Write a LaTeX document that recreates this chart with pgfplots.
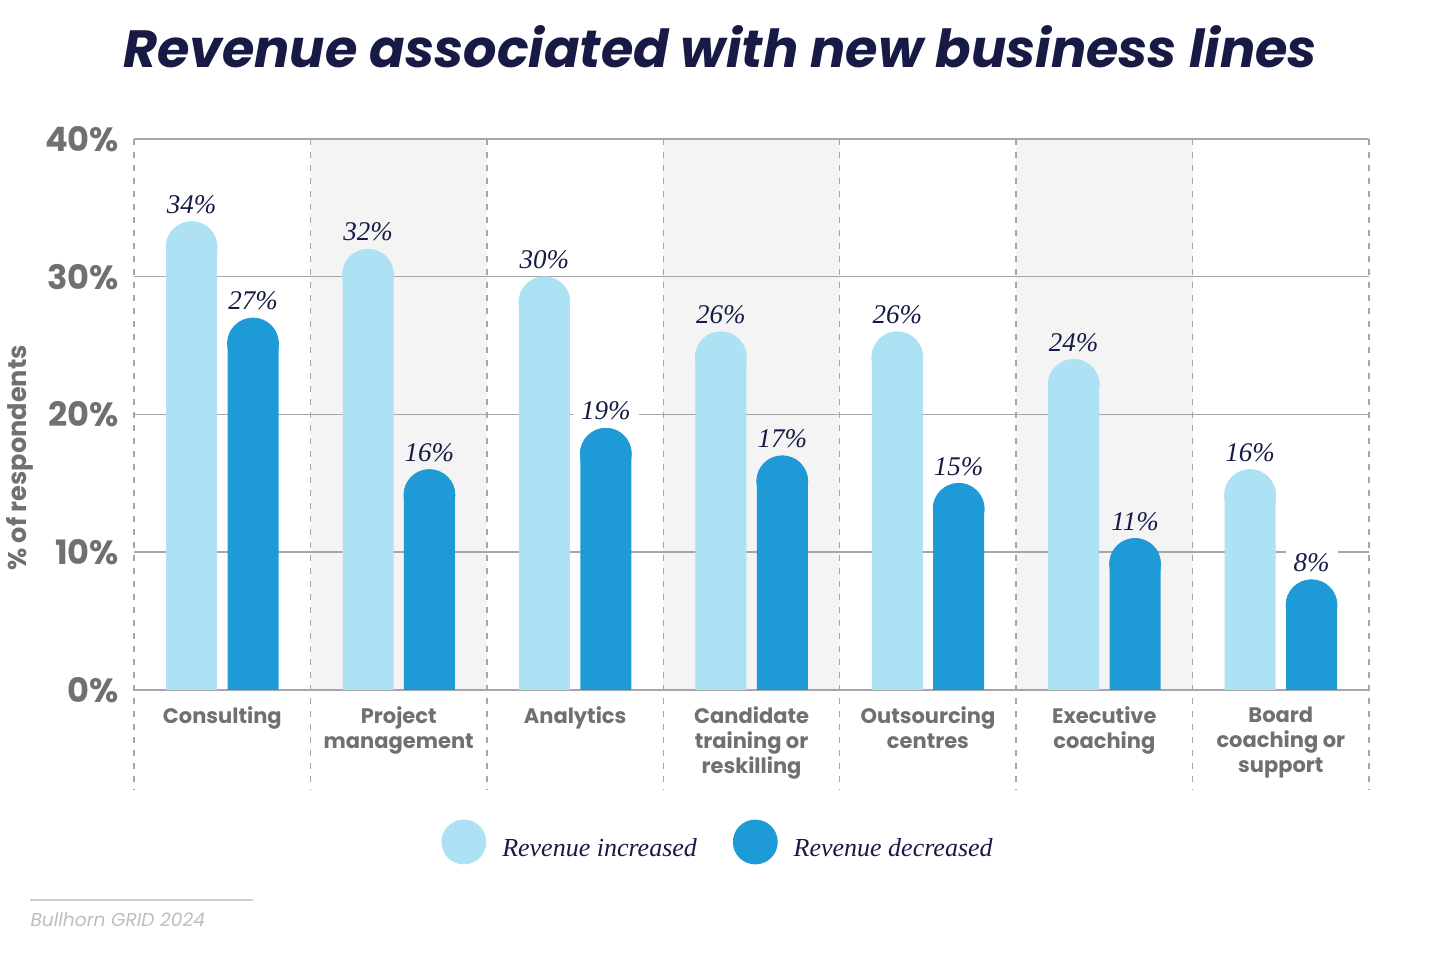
\documentclass[border=0pt]{standalone}
\usepackage{fontspec}
\usepackage{pgfplots}
\pgfplotsset{compat=1.18}
\usepackage{pgfplotstable}
\setmainfont{Poppins}
\newfontfamily\serifit{Liberation Serif}
\newfontfamily\headfont{Poppins}

\definecolor{incblue}{HTML}{ADE1F4}
\definecolor{decblue}{HTML}{1E9AD6}
\definecolor{navy}{HTML}{161A45}
\definecolor{txtgray}{HTML}{707070}
\definecolor{gridgray}{HTML}{A6A6A6}
\definecolor{bandgray}{HTML}{F4F4F4}
\definecolor{srcgray}{HTML}{BDBDBD}

\pgfplotstableread{
x inc dec
0 34 27
1 32 16
2 30 19
3 26 17
4 26 15
5 24 11
6 16 8
}\revdata

% value labels; boxes are white in the white bands (they break the grid lines)
\pgfplotsset{
  vlabels/.style={
    nodes near coords={\pgfplotspointmeta\%},
    point meta=explicit symbolic,
    every node near coord/.append style={font=\serifit\itshape\fontsize{13.5}{16}\selectfont,
      text=navy, anchor=south, inner xsep=4pt, inner ysep=2pt, yshift=14.5pt},
    coordinate style/.condition={mod(\coordindex,2)==0}{fill=white},
  },
  capbar/.style={ybar, bar width=25.5pt, bar shift=0pt, fill=#1, draw=none, mark=none, forget plot},
  cap/.style={only marks, mark=*, mark size=12.75pt, color=#1, mark options={draw=none, fill=#1},
    legend image code/.code={\fill[#1] (0pt,3.5pt) circle (11pt); \path (17pt,0pt);}},
}

\begin{document}
\begin{tikzpicture}
\begin{axis}[
  set layers,
  scale only axis,
  width=617.5pt, height=275.5pt,
  xmin=-0.5, xmax=6.5, ymin=0, ymax=40,
  clip=false,
  axis line style={draw=none},
  major tick length=0pt,
  ytick={0,10,20,30,40},
  yticklabels={0\%,10\%,20\%,30\%,40\%},
  yticklabel style={font=\bfseries\fontsize{16.8}{18}\selectfont, text=txtgray, xshift=-4pt},
  xtick={0,1,2,3,4,5,6},
  xticklabels={Consulting, {Project\\management}, Analytics, {Candidate\\training or\\reskilling},
    {Outsourcing\\centres}, {Executive\\coaching}, {Board\\coaching or\\support}},
  xticklabel style={font=\bfseries\fontsize{10.5}{12.5}\selectfont, text=txtgray, align=center, anchor=north, yshift=-5pt},
  ymajorgrids,
  grid style={gridgray, line width=0.75pt},
  legend columns=2,
  legend style={at={(0.4737,-0.276)}, anchor=center, draw=none, fill=none,
    font=\serifit\itshape\fontsize{13}{16}\selectfont, text=navy,
    /tikz/every even column/.append style={column sep=16pt}},
]
\begin{pgfonlayer}{axis background}
  \fill[bandgray] (axis cs:0.5,0) rectangle (axis cs:1.5,40);
  \fill[bandgray] (axis cs:2.5,0) rectangle (axis cs:3.5,40);
  \fill[bandgray] (axis cs:4.5,0) rectangle (axis cs:5.5,40);
  \pgfplotsinvokeforeach{-0.5,0.5,1.5,2.5,3.5,4.5,5.5,6.5}{
    \draw[gridgray, line width=0.7pt, dash pattern=on 3pt off 3.5pt]
      (axis cs:#1,40) -- ([yshift=-50pt]axis cs:#1,0);
  }
\end{pgfonlayer}

% revenue increased: straight bar up to value minus cap radius, round cap on top
\addplot[capbar=incblue]
  table[x expr=\thisrow{x}-0.174, y expr=\thisrow{inc}-1.851] {\revdata};
\addplot[cap=incblue, vlabels]
  table[x expr=\thisrow{x}-0.174, y expr=\thisrow{inc}-1.851, meta=inc] {\revdata};
\addlegendentry{Revenue increased}

% revenue decreased
\addplot[capbar=decblue]
  table[x expr=\thisrow{x}+0.174, y expr=\thisrow{dec}-1.851] {\revdata};
\addplot[cap=decblue, vlabels]
  table[x expr=\thisrow{x}+0.174, y expr=\thisrow{dec}-1.851, meta=dec] {\revdata};
\addlegendentry{Revenue decreased}
\end{axis}

\node[font=\headfont\bfseries\itshape\fontsize{26.2}{32}\selectfont, text=navy]
  at (293pt,321.5pt) {Revenue associated with new business lines};
\node[rotate=90, font=\bfseries\fontsize{12.8}{14}\selectfont, text=txtgray]
  at (-57pt,116pt) {\% of respondents};
\draw[srcgray!70, line width=0.75pt] (-52pt,-105pt) -- (59.5pt,-105pt);
\node[anchor=base west, inner sep=0pt, font=\itshape\fontsize{9.3}{11}\selectfont, text=srcgray]
  at (-52pt,-118.5pt) {Bullhorn GRID 2024};
\useasboundingbox (-67pt,-133pt) rectangle (653pt,345pt);
\end{tikzpicture}
\end{document}
